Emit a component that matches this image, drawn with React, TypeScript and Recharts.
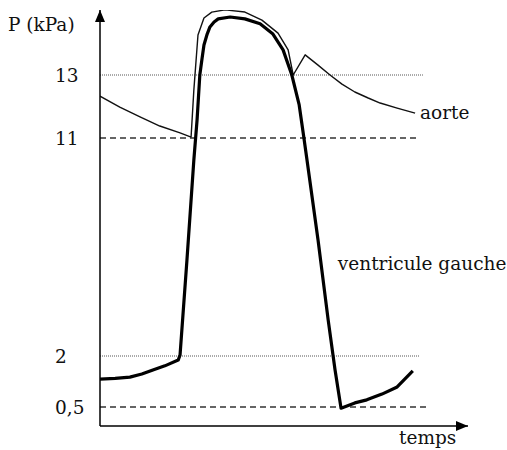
import React from 'react';
import { LineChart, Line, XAxis, YAxis, ReferenceLine, ReferenceDot } from 'recharts';

// Time in ms (schematic), pressure in kPa
const ventT = [0, 33, 65, 91, 115, 141, 170, 174, 189, 204, 211, 217, 222, 226, 233, 239, 248, 257, 283, 315, 348, 376, 398, 417, 433, 443, 450, 474, 496, 511, 524, 554, 580, 613, 646, 680];
const ventP = [1.32, 1.34, 1.38, 1.47, 1.59, 1.71, 1.88, 2.04, 5.96, 10.09, 11.57, 13.0, 13.55, 13.97, 14.32, 14.55, 14.71, 14.81, 14.87, 14.81, 14.65, 14.32, 13.81, 13.0, 12.05, 11.03, 10.09, 6.79, 3.49, 1.59, 0.47, 0.62, 0.71, 0.88, 1.09, 1.56];

const aortT = [0, 43, 87, 130, 174, 198, 204, 213, 226, 243, 272, 315, 352, 387, 409, 420, 446, 474, 500, 526, 554, 583, 609, 646, 685];
const aortP = [12.33, 11.98, 11.67, 11.38, 11.16, 11.03, 12.52, 14.29, 14.84, 15.03, 15.1, 15.03, 14.77, 14.35, 13.81, 13.0, 13.65, 13.32, 13.0, 12.71, 12.46, 12.27, 12.11, 11.95, 11.79];

const yTickValues = [0.5, 2, 11, 13];
const yTickLabels = ['0,5', '2', '11', '13'];

// reference levels: value, style, end time
const refLevels = [13, 11, 2, 0.5];
const refStyles = ['dotted', 'dashed', 'dotted', 'dashed'];
const refEnds = [702, 691, 694, 717];

// schematic (non-linear) pressure axis
const KPA_KNOTS = [0, 0.5, 2, 11, 13, 16];
const AXIS_KNOTS = [0, 19, 70, 288, 351, 444];
const toAxis = (p: number) => {
  for (let i = 0; i < KPA_KNOTS.length - 1; i++) {
    if (p <= KPA_KNOTS[i + 1] || i === KPA_KNOTS.length - 2) {
      const f = (p - KPA_KNOTS[i]) / (KPA_KNOTS[i + 1] - KPA_KNOTS[i]);
      return AXIS_KNOTS[i] + f * (AXIS_KNOTS[i + 1] - AXIS_KNOTS[i]);
    }
  }
  return 0;
};

const X_MAX = 800;
const Y_MAX = 416;

const ventData = ventT.map((t, i) => ({ t, v: toAxis(ventP[i]) }));
const aortData = aortT.map((t, i) => ({ t, v: toAxis(aortP[i]) }));
const yTicksAxis = yTickValues.map(toAxis);

const FONT = 'DejaVu Serif, serif';
const FS = 18.5;

const YTick = (props: any) => {
  const { y, payload } = props;
  const idx = yTicksAxis.findIndex((v) => Math.abs(v - payload.value) < 0.01);
  return (
    <text x={55} y={y} dy="0.36em" textAnchor="start" fontFamily={FONT} fontSize={FS} fill="#111">
      {idx >= 0 ? yTickLabels[idx] : ''}
    </text>
  );
};

export default function App() {
  const lastA = aortData[aortData.length - 1];
  return (
    <div style={{ position: 'absolute', left: 0, top: 0, background: '#fff' }}>
      <LineChart width={507} height={450} margin={{ top: 10, right: 39, bottom: 0, left: 0 }}>
        <XAxis
          type="number"
          dataKey="t"
          domain={[0, X_MAX]}
          allowDataOverflow
          height={24}
          tick={false}
          tickLine={false}
          axisLine={{ stroke: '#000', strokeWidth: 1.5 }}
        />
        <YAxis
          type="number"
          domain={[0, Y_MAX]}
          allowDataOverflow
          width={100}
          ticks={yTicksAxis}
          tick={<YTick />}
          tickLine={false}
          axisLine={{ stroke: '#000', strokeWidth: 1.5 }}
        />
        {refLevels.map((lv, i) => (
          <ReferenceLine
            key={'r' + i}
            segment={[{ x: 0, y: toAxis(lv) }, { x: refEnds[i], y: toAxis(lv) }]}
            stroke={refStyles[i] === 'dotted' ? '#555' : '#333'}
            strokeWidth={refStyles[i] === 'dotted' ? 1 : 1.3}
            strokeDasharray={refStyles[i] === 'dotted' ? '1 1' : '6 4'}
            ifOverflow="visible"
          />
        ))}
        <Line
          data={aortData}
          dataKey="v"
          type="linear"
          stroke="#111"
          strokeWidth={1.4}
          strokeLinejoin="round"
          dot={false}
          isAnimationActive={false}
        />
        <Line
          data={ventData}
          dataKey="v"
          type="linear"
          stroke="#000"
          strokeWidth={3.2}
          strokeLinejoin="round"
          dot={false}
          isAnimationActive={false}
        />
        {/* axis arrowheads */}
        <ReferenceDot
          x={0}
          y={Y_MAX}
          ifOverflow="visible"
          shape={(p: any) => (
            <path d={`M${p.cx - 5},${p.cy + 12} L${p.cx + 5},${p.cy + 12} L${p.cx},${p.cy} Z`} fill="#000" />
          )}
        />
        <ReferenceDot
          x={X_MAX}
          y={0}
          ifOverflow="visible"
          shape={(p: any) => (
            <path d={`M${p.cx - 12},${p.cy - 5} L${p.cx - 12},${p.cy + 5} L${p.cx},${p.cy} Z`} fill="#000" />
          )}
        />
        {/* texts */}
        <ReferenceDot
          x={0}
          y={Y_MAX}
          ifOverflow="visible"
          shape={(p: any) => (
            <text x={p.cx - 92} y={p.cy + 21} fontFamily={FONT} fontSize={FS} fill="#111">P (kPa)</text>
          )}
        />
        <ReferenceDot
          x={lastA.t}
          y={lastA.v}
          ifOverflow="visible"
          shape={(p: any) => (
            <text x={p.cx + 5} y={p.cy} dy="0.3em" fontFamily={FONT} fontSize={FS} fill="#111">aorte</text>
          )}
        />
        <ReferenceDot
          x={517}
          y={toAxis(5.76)}
          ifOverflow="visible"
          shape={(p: any) => (
            <text x={p.cx} y={p.cy} dy="0.3em" fontFamily={FONT} fontSize={FS} fill="#111">ventricule gauche</text>
          )}
        />
        <ReferenceDot
          x={650}
          y={0}
          ifOverflow="visible"
          shape={(p: any) => (
            <text x={p.cx} y={p.cy + 18} fontFamily={FONT} fontSize={FS} fill="#111">temps</text>
          )}
        />
      </LineChart>
    </div>
  );
}
